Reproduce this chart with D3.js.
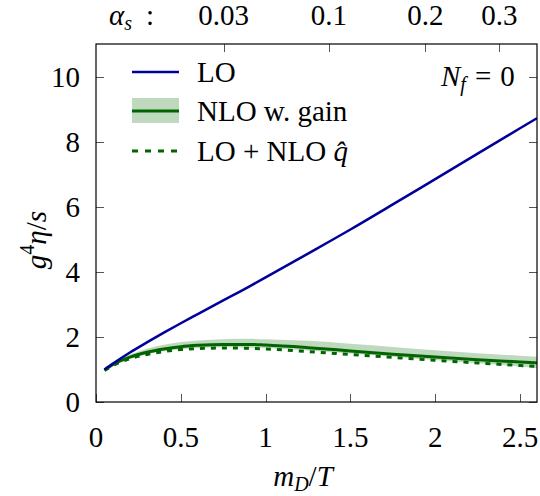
<!DOCTYPE html>
<html>
<head>
<meta charset="utf-8">
<script src="https://cdn.jsdelivr.net/npm/d3@7"></script>
<style>
  body { margin: 0; background: #fff; }
  svg text { font-family: "Times New Roman", Times, "Liberation Serif", "DejaVu Serif", "Noto Serif", serif; }
</style>
</head>
<body>
<div id="chart"></div>
<script>
// values
var mD      = [0.05, 0.1, 0.2, 0.3, 0.4, 0.5, 0.6, 0.75, 0.9, 1.0, 1.25, 1.5, 1.75, 2.0, 2.25, 2.5, 2.6];
var LO      = [1.0, 1.18, 1.52, 1.83, 2.13, 2.42, 2.7, 3.12, 3.54, 3.83, 4.56, 5.3, 6.07, 6.85, 7.63, 8.41, 8.72];
var NLO     = [0.98, 1.15, 1.38, 1.53, 1.63, 1.7, 1.74, 1.77, 1.77, 1.75, 1.67, 1.57, 1.47, 1.38, 1.3, 1.23, 1.2];
var NLOhi   = [1.0, 1.2, 1.46, 1.64, 1.76, 1.84, 1.89, 1.93, 1.94, 1.93, 1.88, 1.79, 1.69, 1.59, 1.5, 1.42, 1.39];
var NLOlo   = [0.97, 1.12, 1.33, 1.47, 1.56, 1.62, 1.66, 1.68, 1.67, 1.66, 1.58, 1.49, 1.39, 1.29, 1.19, 1.09, 1.04];
var LOqhat  = [0.97, 1.12, 1.33, 1.46, 1.55, 1.61, 1.64, 1.66, 1.65, 1.63, 1.55, 1.46, 1.37, 1.28, 1.2, 1.12, 1.09];

var xTicks     = [0, 0.5, 1, 1.5, 2, 2.5];
var xTickText  = ["0", "0.5", "1", "1.5", "2", "2.5"];
var yTicks     = [0, 2, 4, 6, 8, 10];
var alphaTicks = [0.03, 0.1, 0.2, 0.3];
var alphaText  = ["0.03", "0.1", "0.2", "0.3"];

var blue = "#00009a", green = "#006400", band = "#bfd9bf";

var W = 540, H = 496;
var pl = 96, pr = 537, pt = 44, pb = 402;

var svg = d3.select("#chart").append("svg")
    .attr("width", W)
    .attr("height", H);

var x = d3.scaleLinear().domain([0, 2.6]).range([pl, pr]);
var y = d3.scaleLinear().domain([0, 11]).range([pb, pt]);

// alpha_s -> m_D/T
function alphaToMD(a){ return Math.sqrt(6 * Math.PI * a); }

var rows = mD.map(function(m, i){
    return {m: m, lo: LO[i], nlo: NLO[i], hi: NLOhi[i], low: NLOlo[i], q: LOqhat[i]};
});

svg.append("clipPath").attr("id", "clip")
    .append("rect")
    .attr("x", pl).attr("y", pt)
    .attr("width", pr - pl).attr("height", pb - pt);

var plot = svg.append("g").attr("clip-path", "url(#clip)");

// band
var area = d3.area()
    .x(function(d){ return x(d.m); })
    .y0(function(d){ return y(d.low); })
    .y1(function(d){ return y(d.hi); })
    .curve(d3.curveMonotoneX);

plot.append("path")
    .datum(rows)
    .attr("d", area)
    .style("fill", band)
    .style("stroke", "none");

function lineOf(key){
    return d3.line()
        .x(function(d){ return x(d.m); })
        .y(function(d){ return y(d[key]); })
        .curve(d3.curveMonotoneX);
}

plot.append("path")
    .datum(rows)
    .attr("d", lineOf("q"))
    .style("fill", "none")
    .style("stroke", green)
    .style("stroke-width", 3)
    .style("stroke-dasharray", "5,6");

plot.append("path")
    .datum(rows)
    .attr("d", lineOf("nlo"))
    .style("fill", "none")
    .style("stroke", green)
    .style("stroke-width", 3);

plot.append("path")
    .datum(rows)
    .attr("d", lineOf("lo"))
    .style("fill", "none")
    .style("stroke", blue)
    .style("stroke-width", 2.5);

// ticks (inward)
var tl = 8;
var axes = svg.append("g").style("stroke", "#555").style("stroke-width", 1);

xTicks.forEach(function(t){
    var px = Math.round(x(t)) + 0.5;
    axes.append("line").attr("x1", px).attr("x2", px).attr("y1", pb).attr("y2", pb - tl);
});
yTicks.forEach(function(t){
    var py = Math.round(y(t)) + 0.5;
    axes.append("line").attr("x1", pl).attr("x2", pl + tl).attr("y1", py).attr("y2", py);
    axes.append("line").attr("x1", pr).attr("x2", pr - tl).attr("y1", py).attr("y2", py);
});
alphaTicks.forEach(function(a){
    var px = Math.round(x(alphaToMD(a))) + 0.5;
    axes.append("line").attr("x1", px).attr("x2", px).attr("y1", pt).attr("y2", pt + tl);
});

// frame
svg.append("rect")
    .attr("x", pl).attr("y", pt)
    .attr("width", pr - pl).attr("height", pb - pt)
    .style("fill", "none")
    .style("stroke", "#000")
    .style("stroke-width", 1.2);

// tick labels
var fs = 29, sub = 20;
svg.selectAll(".xlab").data(xTicks).enter().append("text")
    .attr("class", "xlab")
    .attr("x", function(d){ return x(d); })
    .attr("y", 447)
    .attr("text-anchor", "middle")
    .attr("font-size", fs)
    .text(function(d, i){ return xTickText[i]; });

svg.selectAll(".ylab").data(yTicks).enter().append("text")
    .attr("class", "ylab")
    .attr("x", 80)
    .attr("y", function(d){ return y(d); })
    .attr("dy", "0.35em")
    .attr("text-anchor", "end")
    .attr("font-size", fs)
    .text(function(d){ return d; });

svg.selectAll(".alab").data(alphaTicks).enter().append("text")
    .attr("class", "alab")
    .attr("x", function(d){ return x(alphaToMD(d)); })
    .attr("y", 25)
    .attr("text-anchor", "middle")
    .attr("font-size", fs)
    .text(function(d, i){ return alphaText[i]; });

// alpha_s :
var at = svg.append("text").attr("x", 109).attr("y", 25).attr("font-size", fs);
at.append("tspan").attr("font-style", "italic").text("α");
at.append("tspan").attr("dy", 5).attr("font-size", sub).attr("font-style", "italic").text("s");
at.append("tspan").attr("dy", -5).attr("dx", 14).text(":");

// axis titles
var xt = svg.append("text").attr("x", 303).attr("y", 486).attr("text-anchor", "middle").attr("font-size", fs);
xt.append("tspan").attr("font-style", "italic").text("m");
xt.append("tspan").attr("dy", 5).attr("font-size", sub).attr("font-style", "italic").text("D");
xt.append("tspan").attr("dy", -5).text("/");
xt.append("tspan").attr("font-style", "italic").text("T");

var yt = svg.append("text")
    .attr("transform", "translate(46,240) rotate(-90)")
    .attr("text-anchor", "middle")
    .attr("font-size", fs);
yt.append("tspan").attr("font-style", "italic").text("g");
yt.append("tspan").attr("dy", -12).attr("font-size", sub).text("4");
yt.append("tspan").attr("dy", 12).attr("font-style", "italic").text("η");
yt.append("tspan").text("/");
yt.append("tspan").attr("font-style", "italic").text("s");

// N_f = 0
var nf = svg.append("text").attr("x", 441).attr("y", 86).attr("font-size", fs);
nf.append("tspan").attr("font-style", "italic").text("N");
nf.append("tspan").attr("dy", 5).attr("font-size", sub).attr("font-style", "italic").text("f");
nf.append("tspan").attr("dy", -5).attr("dx", 9).text("=");
nf.append("tspan").attr("dx", 9).text("0");

// legend
var lx0 = 132, lx1 = 179, tx = 197;
svg.append("line").attr("x1", lx0).attr("x2", lx1).attr("y1", 72).attr("y2", 72)
    .style("stroke", blue).style("stroke-width", 2.5);
svg.append("text").attr("x", tx).attr("y", 82).attr("font-size", fs).text("LO");

svg.append("rect").attr("x", lx0).attr("y", 98).attr("width", lx1 - lx0).attr("height", 25)
    .style("fill", band);
svg.append("line").attr("x1", lx0).attr("x2", lx1).attr("y1", 111).attr("y2", 111)
    .style("stroke", green).style("stroke-width", 3);
svg.append("text").attr("x", tx).attr("y", 121).attr("font-size", fs).text("NLO w. gain");

svg.append("line").attr("x1", lx0).attr("x2", lx1).attr("y1", 151).attr("y2", 151)
    .style("stroke", green).style("stroke-width", 3).style("stroke-dasharray", "6,7");
var lq = svg.append("text").attr("x", tx).attr("y", 161).attr("font-size", fs);
lq.append("tspan").text("LO + NLO ");
lq.append("tspan").attr("font-style", "italic").text("q\u0302");
</script>
</body>
</html>
